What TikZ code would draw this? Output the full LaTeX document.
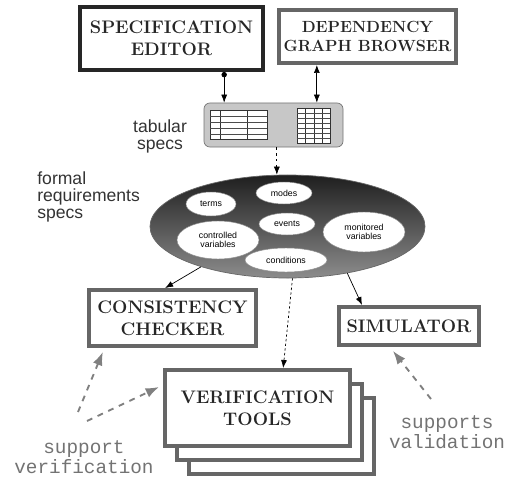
\documentclass[tikz,border=0pt]{standalone}
\usepackage{fontspec}
\setsansfont{Liberation Sans}
\setmonofont{Liberation Mono}
\usetikzlibrary{positioning,arrows.meta,shapes.geometric}

\begin{document}
\begin{tikzpicture}[
            x = 0.03cm, y = -0.03cm, % one unit per pixel
            > = {Latex[length=2.4mm,width=1.8mm]}, % arrow head style
            semithick, % line style
            tool/.style = {rectangle, draw=black!60, line width=3.4pt, fill=white,
                inner sep=0pt, align=center, text=black!85,
                font=\bfseries\fontsize{15.5}{18.5}\selectfont},
            part/.style = {ellipse, draw=black!45, thin, fill=white, inner sep=0pt,
                align=center, font=\sffamily\fontsize{7.5}{8}\selectfont},
            note/.style = {inner sep=0pt, text=black!80,
                font=\sffamily\fontsize{15}{14.5}\selectfont},
            hint/.style = {inner sep=0pt, align=center, text=black!55,
                font=\ttfamily\fontsize{16.5}{17}\selectfont},
            support/.style = {->, black!50, line width=1.6pt,
                dash pattern=on 5pt off 5pt,
                >={Latex[length=4mm,width=3mm]}}
        ]
        \useasboundingbox (0,0) rectangle (510,479);

        % tools on top
        \node[tool, draw=black!85, minimum width=5.49cm, minimum height=1.89cm] (SE) at (171.5,38.5) {SPECIFICATION\\EDITOR};
        \node[tool, minimum width=5.31cm, minimum height=1.59cm, font=\bfseries\fontsize{13.8}{16.5}\selectfont] (DG) at (367.5,36.5) {DEPENDENCY\\GRAPH BROWSER};

        % tabular specs
        \node[rectangle, rounded corners=5pt, draw=black!55, fill=black!22, minimum width=4.17cm, minimum height=1.32cm] (tab) at (273.5,125) {};
        \filldraw[fill=white, draw=black!80, thin] (210,110) rectangle (267,139);
        \foreach \x in {220,247} \draw[black!80, thin] (\x,110) -- (\x,139);
        \foreach \y in {116,122,128,134} \draw[black!70, thin] (210,\y) -- (267,\y);
        \filldraw[fill=white, draw=black!80, thin] (297,108) rectangle (330,143);
        \foreach \x in {305,314,322} \draw[black!80, thin] (\x,108) -- (\x,143);
        \foreach \y in {113,118,123,128,133,138} \draw[black!70, thin] (297,\y) -- (330,\y);
        \node[note, align=center] (tablabel) at (160,136) {tabular\\specs};

        % formal requirements specs
        \node[ellipse, draw=black!60, top color=black!88, bottom color=black!45, minimum width=8.25cm, minimum height=3.09cm] (spec) at (287.5,226.5) {};
        \node[note, align=left, anchor=north west] (speclabel) at (37,171) {formal\\requirements\\specs};
        \node[part, minimum width=1.5cm, minimum height=0.72cm] (terms) at (211,204) {terms};
        \node[part, minimum width=1.68cm, minimum height=0.66cm] (modes) at (284,193) {modes};
        \node[part, minimum width=1.68cm, minimum height=0.66cm] (events) at (287,224) {events};
        \node[part, minimum width=2.46cm, minimum height=1.14cm] (cvars) at (218,240) {controlled\\variables};
        \node[part, minimum width=2.46cm, minimum height=1.2cm] (mvars) at (364,232) {monitored\\variables};
        \node[part, minimum width=2.46cm, minimum height=0.72cm] (conds) at (286,260) {conditions};

        % analysis tools
        \node[tool, minimum width=5.01cm, minimum height=1.68cm] (CC) at (172.5,318) {CONSISTENCY\\CHECKER};
        \node[tool, minimum width=4.2cm, minimum height=1.14cm] (SIM) at (409,326) {SIMULATOR};
        \node[tool, minimum width=5.55cm, minimum height=2.28cm] (VT3) at (281.5,436) {};
        \node[tool, minimum width=5.55cm, minimum height=2.28cm] (VT2) at (269.5,422) {};
        \node[tool, minimum width=5.55cm, minimum height=2.28cm] (VT) at (257.5,408) {VERIFICATION\\TOOLS};

        \node[hint] (sver) at (84,457) {support\\verification};
        \node[hint] (sval) at (447,432) {supports\\validation};
        \coordinate (sver1) at (78,412);
        \coordinate (sver2) at (87,421);
        \coordinate (sval1) at (431,399);

        \draw[{Circle[length=1.6mm]}->] ([xshift=1.58cm]SE.south) -- ([xshift=1.58cm]SE.south |- tab.north);
        \draw[<->] ([xshift=1.3cm]tab.north) -- ([xshift=1.3cm]tab.north |- DG.south);
        \draw[->, dash pattern=on 2pt off 3pt] ([xshift=0.1cm]tab.south) -- ([xshift=0.1cm]tab.south |- spec.north);
        \path[->]
            (spec.205)   edge  ([xshift=-0.22cm]CC.north)
            (spec.322)   edge  ([xshift=-1.41cm]SIM.north)
            ([xshift=0.15cm]spec.south) edge[dash pattern=on 2pt off 2pt] ([xshift=0.77cm]VT.north);

        \draw[support] (sver1) -- ([xshift=-2.09cm, yshift=-0.12cm]CC.south);
        \draw[support] (sver2) -- ([xshift=-0.12cm, yshift=0.63cm]VT.west);
        \draw[support] (sval1) -- ([xshift=-0.48cm, yshift=-0.12cm]SIM.south);

  \end{tikzpicture}
\end{document}
